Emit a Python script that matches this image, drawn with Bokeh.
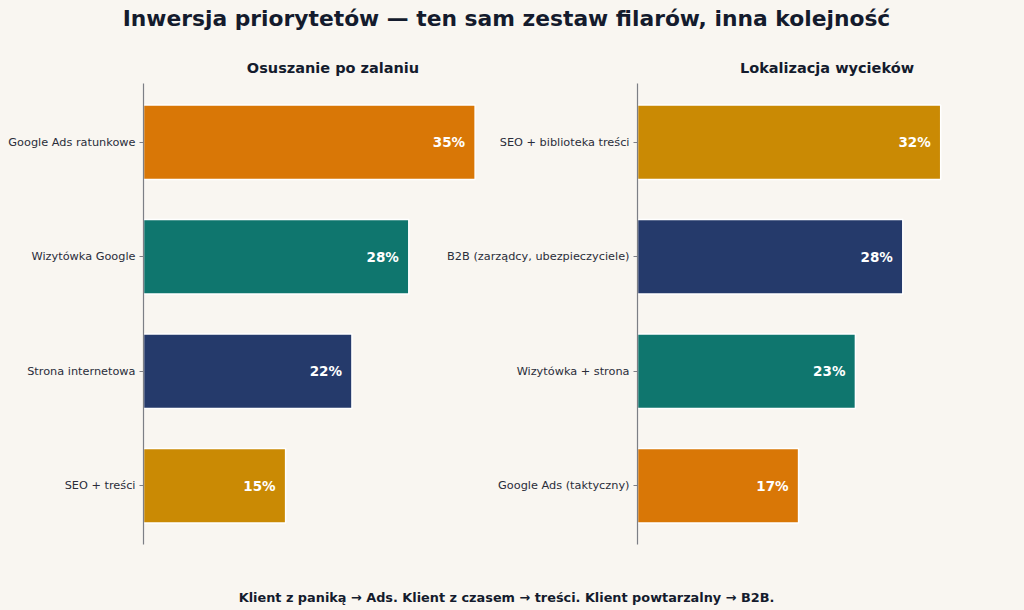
from bokeh.plotting import figure
from bokeh.layouts import column, row
from bokeh.models import ColumnDataSource, Range1d, FactorRange, Label
from bokeh.core.properties import value
from bokeh.embed import file_html
from bokeh.resources import INLINE

# ---- data ----
main_title = "Inwersja priorytetów — ten sam zestaw filarów, inna kolejność"
footer_text = "Klient z paniką → Ads. Klient z czasem → treści. Klient powtarzalny → B2B."

left_title = "Osuszanie po zalaniu"
left_cats = ["Google Ads ratunkowe", "Wizytówka Google", "Strona internetowa", "SEO + treści"]
left_vals = [35, 28, 22, 15]

right_title = "Lokalizacja wycieków"
right_cats = ["SEO + biblioteka treści", "B2B (zarządcy, ubezpieczyciele)", "Wizytówka + strona", "Google Ads (taktyczny)"]
right_vals = [32, 28, 23, 17]

ORANGE = "#d97706"
TEAL = "#0f766e"
NAVY = "#253a6b"
GOLD = "#ca8a04"
left_colors = [ORANGE, TEAL, NAVY, GOLD]
right_colors = [GOLD, NAVY, TEAL, ORANGE]

BG = "#f9f6f1"
DARK = "#141b2d"
FONT = "DejaVu Sans"


def panel(cats, vals, colors, title, width, border_left, border_right, transparent):
    src = ColumnDataSource(dict(cat=cats, val=vals, color=colors,
                                lab=[f"{v}%" for v in vals]))
    p = figure(width=width, height=535,
               y_range=FactorRange(factors=list(reversed(cats)), range_padding=0.006),
               x_range=Range1d(0, 40),
               x_axis_location=None,
               output_backend="svg", toolbar_location=None,
               min_border_left=border_left, min_border_right=border_right,
               min_border_top=38, min_border_bottom=36)
    p.hbar(y="cat", right="val", left=0, height=0.65, fill_color="color",
           line_color="white", line_width=1.5, source=src)
    p.text(x="val", y="cat", text="lab", source=src, x_offset=-10,
           text_align="right", text_baseline="middle",
           text_color="white", text_font_style="bold",
           text_font=value(FONT), text_font_size="13.5px")
    p.title.text = title
    p.title.align = "center"
    p.title.text_font = FONT
    p.title.text_font_style = "bold"
    p.title.text_font_size = "14.5px"
    p.title.text_color = DARK
    p.title.standoff = 15
    p.grid.visible = False
    p.outline_line_color = None
    if transparent:
        p.background_fill_alpha = 0
        p.border_fill_alpha = 0
    else:
        p.background_fill_color = BG
        p.border_fill_color = BG
    ax = p.yaxis[0]
    ax.axis_line_color = "#7d7f86"
    ax.axis_line_width = 1.2
    ax.major_tick_line_color = "#7d7f86"
    ax.major_tick_out = 4
    ax.major_tick_in = 0
    ax.major_label_standoff = 4
    ax.major_label_text_font = FONT
    ax.major_label_text_font_size = "11.3px"
    ax.major_label_text_color = "#2a2d3a"
    return p


left = panel(left_cats, left_vals, left_colors, left_title, 522, 143, 0, False)
right = panel(right_cats, right_vals, right_colors, right_title, 624, 237, 8, True)
right.margin = (0, 0, 0, -122)


def text_fig(h, txt, size, ypos):
    f = figure(width=1024, height=h, x_range=Range1d(0, 1), y_range=Range1d(0, 1),
               x_axis_location=None, y_axis_location=None, min_border=0,
               output_backend="svg", toolbar_location=None)
    f.outline_line_color = None
    f.grid.visible = False
    f.background_fill_color = BG
    f.border_fill_color = BG
    f.add_layout(Label(x=0.5, y=ypos, text=txt, text_align="center",
                       x_offset=-6,
                       text_baseline="middle", text_font=FONT,
                       text_font_style="bold", text_font_size=size,
                       text_color=DARK))
    return f


top = text_fig(45, main_title, "21.8px", 1 - 18 / 45)
bottom = text_fig(30, footer_text, "12.85px", 1 - 17 / 30)

mid = row(left, right)
mid.styles = {"background-color": BG}
layout = column(top, mid, bottom)
layout.styles = {"background-color": BG}

html = file_html(layout, INLINE)
html = html.replace("<body>", f'<body style="margin:0;background:{BG};">', 1)
open("out.html", "w").write(html)
